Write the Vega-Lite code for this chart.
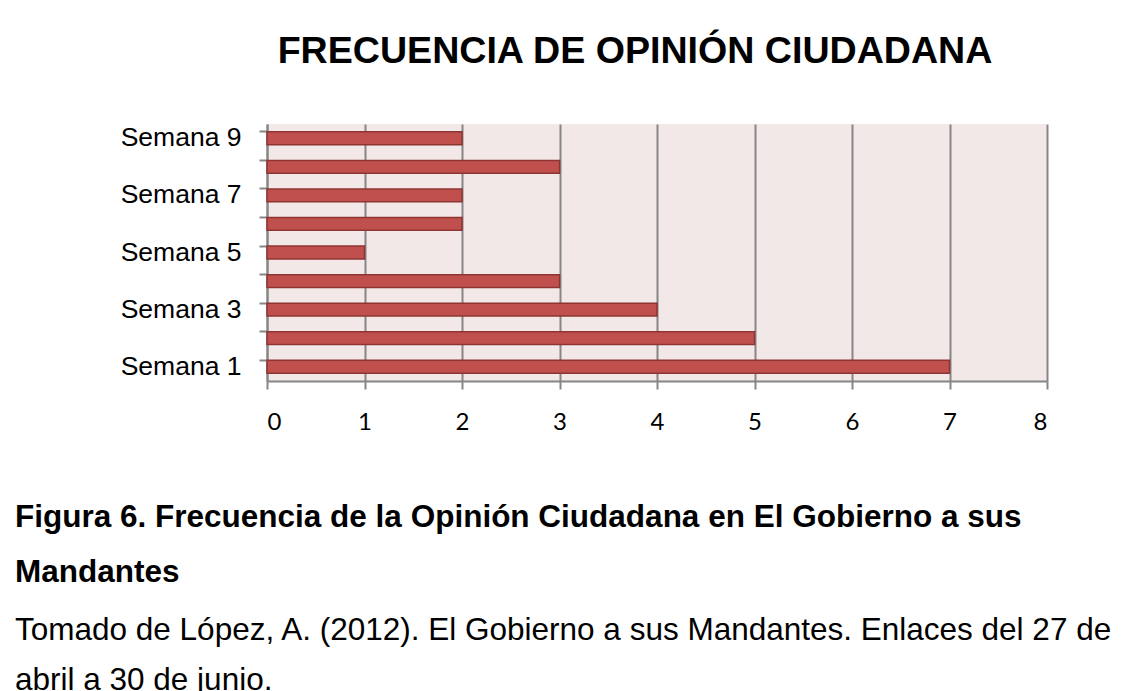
{
  "$schema": "https://vega.github.io/schema/vega-lite/v6.json",
  "padding": {"left": 15, "top": 33, "right": 5, "bottom": 0},
  "background": "white",
  "title": {
    "text": ["Figura 6. Frecuencia de la Opinión Ciudadana en El Gobierno a sus", "Mandantes"],
    "subtitle": ["Tomado de López, A. (2012). El Gobierno a sus Mandantes. Enlaces del 27 de", "abril a 30 de junio."],
    "orient": "bottom",
    "anchor": "start",
    "frame": "bounds",
    "font": "Liberation Sans",
    "fontSize": 31.5,
    "fontWeight": "bold",
    "color": "black",
    "lineHeight": 55,
    "subtitleFont": "Liberation Sans",
    "subtitleFontSize": 31.5,
    "subtitleColor": "black",
    "subtitleLineHeight": 50,
    "subtitlePadding": 26,
    "offset": 68
  },
  "vconcat": [
    {
      "width": 780,
      "height": 257,
      "title": {
        "text": "FRECUENCIA DE OPINIÓN CIUDADANA",
        "font": "Liberation Sans",
        "fontSize": 37.6,
        "fontWeight": "bold",
        "color": "black",
        "anchor": "middle",
        "frame": "group",
        "dx": -22,
        "baseline": "alphabetic",
        "offset": 23
      },
      "data": {
        "values": [
          {"semana": "Semana 1", "n": 7},
          {"semana": "Semana 2", "n": 5},
          {"semana": "Semana 3", "n": 4},
          {"semana": "Semana 4", "n": 3},
          {"semana": "Semana 5", "n": 1},
          {"semana": "Semana 6", "n": 2},
          {"semana": "Semana 7", "n": 2},
          {"semana": "Semana 8", "n": 3},
          {"semana": "Semana 9", "n": 2}
        ]
      },
      "view": {"fill": "#F2E8E7", "stroke": null},
      "layer": [
        {
          "mark": {"type": "bar", "fill": "#C0504D", "stroke": "#8E3533", "strokeWidth": 1.5},
          "encoding": {
            "y": {
              "field": "semana",
              "type": "nominal",
              "sort": ["Semana 9", "Semana 8", "Semana 7", "Semana 6", "Semana 5", "Semana 4", "Semana 3", "Semana 2", "Semana 1"],
              "scale": {"paddingInner": 0.55, "paddingOuter": 0.275},
              "axis": {
                "orient": "left",
                "values": ["Semana 1", "Semana 3", "Semana 5", "Semana 7", "Semana 9"],
                "ticks": false,
                "tickSize": 0,
                "title": null,
                "labelFont": "Liberation Sans",
                "labelFontSize": 26.5,
                "labelColor": "black",
                "labelPadding": 26,
                "domainColor": "#868686",
                "domainWidth": 2,
                "minExtent": 252,
                "maxExtent": 252
              }
            },
            "x": {
              "field": "n",
              "type": "quantitative",
              "scale": {"domain": [0, 8], "nice": false},
              "axis": {
                "values": [0, 1, 2, 3, 4, 5, 6, 7, 8],
                "title": null,
                "grid": true,
                "gridColor": "#868686",
                "gridWidth": 2,
                "tickColor": "#868686",
                "tickWidth": 2,
                "tickSize": 8,
                "domainColor": "#868686",
                "domainWidth": 2,
                "labelFont": "Lato",
                "labelFontSize": 24,
                "labelColor": "black",
                "labelPadding": 21
              }
            }
          }
        },
        {
          "mark": {"type": "bar", "opacity": 0},
          "encoding": {
            "y": {
              "field": "semana",
              "type": "nominal",
              "sort": ["Semana 9", "Semana 8", "Semana 7", "Semana 6", "Semana 5", "Semana 4", "Semana 3", "Semana 2", "Semana 1"],
              "axis": {
                "orient": "left",
                "labels": false,
                "bandPosition": 0,
                "tickSize": 8,
                "tickColor": "#868686",
                "tickWidth": 2,
                "domain": false,
                "grid": false,
                "title": null
              }
            }
          }
        }
      ],
      "resolve": {"axis": {"y": "independent"}}
    }
  ],
  "config": {"view": {"stroke": null}}
}
